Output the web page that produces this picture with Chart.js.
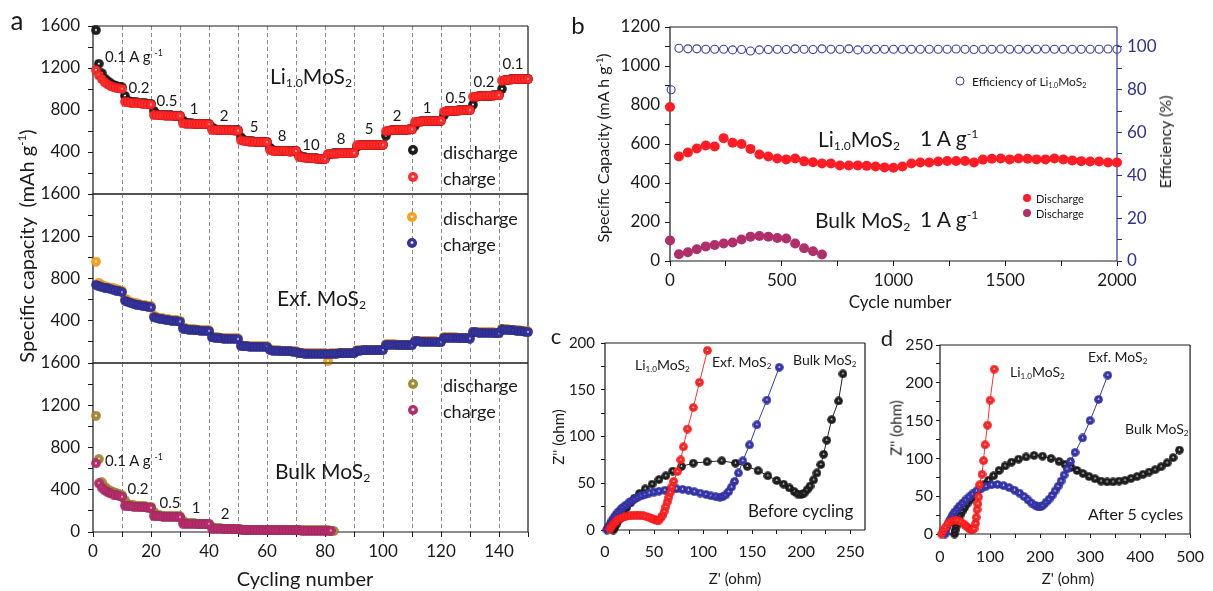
<!DOCTYPE html>
<html><head><meta charset="utf-8">
<script src="https://cdn.jsdelivr.net/npm/chart.js@4.4.0/dist/chart.umd.min.js"></script>
<style>
html,body{margin:0;padding:0;background:#fff;}
#root{position:relative;width:1213px;height:591px;overflow:hidden;font-family:Lato,'Open Sans',sans-serif;color:#1a1a1a;}
#root canvas{position:absolute;left:0;top:0;}
.t{position:absolute;white-space:nowrap;line-height:1;}
.c{transform:translate(-50%,-50%);}
.l{transform:translate(0,-50%);}
.rot{transform:translate(-50%,-50%) rotate(-90deg);}
sub{font-size:58%;vertical-align:-0.3em;line-height:0;}
sup{font-size:58%;vertical-align:0.65em;line-height:0;}
.ball{position:absolute;border-radius:50%;transform:translate(-50%,-50%);}
</style></head>
<body><div id="root">
<canvas id="ca1" width="1213" height="591"></canvas>
<canvas id="ca2" width="1213" height="591"></canvas>
<canvas id="ca3" width="1213" height="591"></canvas>
<canvas id="cb" width="1213" height="591"></canvas>
<canvas id="cc" width="1213" height="591"></canvas>
<canvas id="cd" width="1213" height="591"></canvas>

<!-- panel a -->
<div class="t c" style="left:17px;top:20px;font-size:26px">a</div>
<div class="t rot" style="left:26px;top:246px;font-size:20px">Specific capacity&nbsp; (mAh g<sup>-1</sup>)</div>
<div class="t c" style="left:305px;top:578px;font-size:20px">Cycling number</div>
<div class="t l" style="left:270px;top:75px;font-size:21px">Li<sub>1.0</sub>MoS<sub>2</sub></div>
<div class="t l" style="left:105px;top:56px;font-size:15px">0.1 A g <sup>-1</sup></div>
<div class="t c" style="left:139px;top:87px;font-size:15px">0.2</div>
<div class="t c" style="left:167px;top:100px;font-size:15px">0.5</div>
<div class="t c" style="left:194px;top:108px;font-size:15px">1</div>
<div class="t c" style="left:224px;top:115px;font-size:15px">2</div>
<div class="t c" style="left:254px;top:126px;font-size:15px">5</div>
<div class="t c" style="left:282px;top:135px;font-size:15px">8</div>
<div class="t c" style="left:311px;top:144px;font-size:15px">10</div>
<div class="t c" style="left:341px;top:138px;font-size:15px">8</div>
<div class="t c" style="left:369px;top:128px;font-size:15px">5</div>
<div class="t c" style="left:397px;top:115px;font-size:15px">2</div>
<div class="t c" style="left:427px;top:107px;font-size:15px">1</div>
<div class="t c" style="left:456px;top:97px;font-size:15px">0.5</div>
<div class="t c" style="left:484px;top:81px;font-size:15px">0.2</div>
<div class="t c" style="left:513px;top:63px;font-size:15px">0.1</div>
<div class="ball" id="lg1" style="left:413px;top:150px;width:10px;height:10px"></div>
<div class="t l" style="left:443px;top:152px;font-size:18px">discharge</div>
<div class="ball" id="lg2" style="left:413px;top:177px;width:10px;height:10px"></div>
<div class="t l" style="left:443px;top:178px;font-size:18px">charge</div>

<div class="t l" style="left:277px;top:297px;font-size:21px">Exf. MoS<sub>2</sub></div>
<div class="ball" id="lg3" style="left:412px;top:217px;width:10px;height:10px"></div>
<div class="t l" style="left:443px;top:218px;font-size:18px">discharge</div>
<div class="ball" id="lg4" style="left:412px;top:243px;width:10px;height:10px"></div>
<div class="t l" style="left:443px;top:244px;font-size:18px">charge</div>

<div class="t l" style="left:275px;top:470px;font-size:21px">Bulk MoS<sub>2</sub></div>
<div class="ball" id="lg5" style="left:413px;top:384px;width:10px;height:10px"></div>
<div class="t l" style="left:443px;top:385px;font-size:18px">discharge</div>
<div class="ball" id="lg6" style="left:413px;top:410px;width:10px;height:10px"></div>
<div class="t l" style="left:443px;top:411px;font-size:18px">charge</div>
<div class="t l" style="left:105px;top:460px;font-size:15px">0.1 A g <sup>-1</sup></div>
<div class="t c" style="left:138px;top:488px;font-size:15px">0.2</div>
<div class="t c" style="left:170px;top:502px;font-size:15px">0.5</div>
<div class="t c" style="left:196px;top:507px;font-size:15px">1</div>
<div class="t c" style="left:225px;top:513px;font-size:15px">2</div>

<!-- panel b -->
<div class="t c" style="left:578px;top:25px;font-size:24px">b</div>
<div class="t rot" style="left:603px;top:148px;font-size:16px">Specific Capacity (mA h g<sup>-1</sup>)</div>
<div class="t rot" style="left:1165px;top:142px;font-size:16px">Efficiency (%)</div>
<div class="t c" style="left:900px;top:301px;font-size:17px">Cycle number</div>
<div class="t l" style="left:818px;top:138px;font-size:21px">Li<sub>1.0</sub>MoS<sub>2</sub></div>
<div class="t l" style="left:920px;top:137px;font-size:21px">1 A g<sup>-1</sup></div>
<div class="t l" style="left:815px;top:219px;font-size:21px">Bulk MoS<sub>2</sub></div>
<div class="t l" style="left:920px;top:218px;font-size:21px">1 A g<sup>-1</sup></div>
<div class="ball" style="left:960px;top:81px;width:7px;height:7px;border:1.2px solid #3b3fa8"></div>
<div class="t l" style="left:972px;top:82px;font-size:12px">Efficiency of Li<sub>1.0</sub>MoS<sub>2</sub></div>
<div class="ball" style="left:1027px;top:198px;width:8px;height:8px;background:#ff1c24"></div>
<div class="t l" style="left:1036px;top:198px;font-size:11px">Discharge</div>
<div class="ball" style="left:1027px;top:213px;width:8px;height:8px;background:#b02f6a"></div>
<div class="t l" style="left:1036px;top:213px;font-size:11px">Discharge</div>

<!-- panel c -->
<div class="t c" style="left:556px;top:336px;font-size:22px">c</div>
<div class="t rot" style="left:558px;top:437px;font-size:15px">Z'' (ohm)</div>
<div class="t c" style="left:735px;top:578px;font-size:15px">Z' (ohm)</div>
<div class="t l" style="left:635px;top:365px;font-size:14px">Li<sub>1.0</sub>MoS<sub>2</sub></div>
<div class="t l" style="left:712px;top:362px;font-size:14px">Exf. MoS<sub>2</sub></div>
<div class="t l" style="left:793px;top:360px;font-size:14px">Bulk MoS<sub>2</sub></div>
<div class="t l" style="left:748px;top:510px;font-size:17px">Before cycling</div>

<!-- panel d -->
<div class="t c" style="left:887px;top:338px;font-size:22px">d</div>
<div class="t rot" style="left:896px;top:428px;font-size:15px">Z'' (ohm)</div>
<div class="t c" style="left:1068px;top:578px;font-size:15px">Z' (ohm)</div>
<div class="t l" style="left:1010px;top:372px;font-size:14px">Li<sub>1.0</sub>MoS<sub>2</sub></div>
<div class="t l" style="left:1088px;top:357px;font-size:14px">Exf. MoS<sub>2</sub></div>
<div class="t l" style="left:1125px;top:429px;font-size:14px">Bulk MoS<sub>2</sub></div>
<div class="t l" style="left:1088px;top:514px;font-size:16px">After 5 cycles</div>
</div>

<script>
// ---------------- DATA ----------------
// Panel a: capacity (mAh/g) per cycle (cycle 1..N)
const liCharge = [1180,1130,1095,1065,1045,1030,1020,1010,1005,1000,
 880,875,870,868,865,862,860,858,855,852,
 752,750,749,748,747,746,745,744,743,742,
 672,670,669,668,667,666,666,665,664,664,
 612,610,609,608,607,606,605,605,604,603,
 510,505,502,500,498,497,496,495,494,493,
 420,412,408,405,410,412,406,403,408,410,
 355,348,345,342,340,340,338,336,334,333,
 382,384,385,385,386,386,387,388,388,389,
 462,464,465,466,466,467,467,468,468,469,
 598,603,606,608,610,611,612,613,614,615,
 685,688,690,692,694,695,696,697,698,699,
 785,788,790,792,794,795,796,797,798,799,
 925,928,930,932,934,936,937,938,939,940,
 1080,1085,1088,1090,1092,1092,1093,1094,1094,1095];
const liDischarge = [1560,1240,1150,1100,1075,1055,1040,1030,1022,1015,
 935,890,880,875,872,868,865,862,860,858,
 790,760,755,752,750,749,748,747,746,745,
 700,678,674,672,670,669,668,667,666,666,
 635,618,613,611,610,609,608,607,606,605,
 540,515,508,504,502,500,499,498,497,496,
 440,420,413,410,412,414,410,407,410,412,
 370,355,350,346,343,342,340,338,336,335,
 372,384,386,387,387,388,388,389,389,390,
 450,465,467,467,468,468,469,469,470,470,
 555,600,607,609,611,612,613,614,615,616,
 650,688,692,694,695,696,697,698,699,700,
 750,788,792,794,795,796,797,798,799,800,
 850,928,932,934,935,937,938,939,940,941,
 1000,1085,1090,1092,1093,1094,1095,1095,1096,1096];
const exfCharge = [740,725,718,712,706,700,693,686,678,670,
 590,578,568,560,552,545,540,535,530,526,
 432,424,418,412,408,404,400,397,394,392,
 326,320,316,313,311,309,307,305,304,302,
 242,238,235,233,231,230,229,228,227,226,
 160,158,157,156,155,155,154,154,153,153,
 122,118,116,114,112,111,110,109,108,108,
 92,90,89,88,87,87,86,86,86,85,
 88,88,89,89,90,90,90,91,91,92,
 118,118,119,119,120,120,121,121,122,122,
 172,172,171,171,170,170,170,169,169,168,
 205,204,203,202,201,200,200,199,198,198,
 240,239,238,237,236,235,234,233,232,231,
 292,290,288,287,286,285,284,283,282,281,
 318,316,313,311,308,305,302,299,296,293];
const exfDischarge = [960,760,735,727,720,714,707,700,692,684,
 610,592,580,572,564,557,551,546,541,537,
 450,436,429,423,418,414,410,407,404,401,
 340,330,325,322,319,317,315,313,311,310,
 254,246,242,240,238,236,235,234,233,232,
 170,165,163,162,161,160,160,159,159,158,
 130,124,121,119,117,116,115,114,113,113,
 98,95,94,93,92,91,91,90,90,90,
 20,93,94,94,95,95,95,96,96,97,
 122,123,124,124,125,125,126,126,127,127,
 178,177,176,176,175,175,175,174,174,173,
 210,209,208,207,206,205,205,204,203,203,
 246,245,244,243,242,241,240,239,238,237,
 298,296,294,293,292,291,290,289,288,287,
 326,322,319,317,314,311,308,305,302,299];
const bulkCharge = [650,460,420,395,378,365,355,347,340,333,
 248,244,242,240,238,236,234,232,230,228,
 150,148,147,146,145,144,143,142,141,140,
 80,78,77,76,75,75,74,74,73,73,
 32,31,30,30,29,29,28,28,27,27,
 20,20,19,19,19,18,18,18,18,17,
 17,17,16,16,16,16,15,15,15,15,
 15,14,14,14,14,14,13,13,13,13,
 13,12];
const bulkDischarge = [1100,690,470,430,405,390,377,366,357,349,
 300,262,255,252,249,247,245,243,241,239,
 190,162,157,155,153,152,151,150,149,148,
 110,88,84,82,81,80,79,79,78,78,
 50,38,35,34,33,33,32,32,31,31,
 25,23,22,22,21,21,21,20,20,20,
 19,19,19,18,18,18,18,17,17,17,
 17,16,16,16,16,16,15,15,15,15,
 15,14,10];
const aYTicks = [0,400,800,1200,1600];
const aXTicks = [0,20,40,60,80,100,120,140];

// Panel b: long cycling at 1 A/g
const bCycles = [0,40,80,120,160,200,240,280,320,360,400,440,480,520,560,600,640,680,720,760,800,840,880,920,960,1000,
 1040,1080,1120,1160,1200,1240,1280,1320,1360,1400,1440,1480,1520,1560,1600,1640,1680,1720,1760,1800,1840,1880,1920,1960,2000];
const bLiDischarge = [790,536,556,577,592,587,630,606,600,575,546,536,526,521,526,511,506,500,500,490,490,490,488,485,480,478,
 485,500,505,505,510,513,513,513,505,520,524,526,521,526,524,521,521,526,521,516,512,510,510,505,505];
const bBulkCycles = [0,40,80,120,160,200,240,280,320,360,400,440,480,520,560,600,640,680];
const bBulkDischarge = [105,35,45,60,75,82,90,95,110,125,128,125,118,115,90,65,50,33];
const bEffCycles = [5,40,80,120,160,200,240,280,320,360,400,440,480,520,560,600,640,680,720,760,800,840,880,920,960,1000,
 1040,1080,1120,1160,1200,1240,1280,1320,1360,1400,1440,1480,1520,1560,1600,1640,1680,1720,1760,1800,1840,1880,1920,1960,2000];
const bEfficiency = [80,99.4,99.1,99.1,98.9,98.9,98.9,98.6,98.8,98.1,98.6,98.8,98.9,98.8,99.1,98.9,98.8,99.1,98.9,98.9,99.1,98.6,98.9,98.9,98.9,98.9,
 98.9,98.9,98.9,98.9,98.9,98.9,99.0,98.9,98.8,98.9,98.9,99.0,98.9,98.9,98.9,98.9,99.0,98.9,98.9,98.9,98.9,98.9,98.9,99.0,98.9];

// Panel c: Nyquist before cycling (Z', Z'')
const cLiX = [5,6,7.5,9,11,13,15.5,18,21,24,27,30,33,36,39,42,45,48,50.5,53,55,57,59,60.5,62,63.5,65,66.5,68,70,73.8,77.2,79.9,84,90,96.3,104.4];
const cLiY = [1,3,5,7,9,11,12.5,13.5,14.5,15,15.5,15.8,16,15.8,15.3,14.5,13.5,12,11,10,10.5,13,16,20,25,30,35,40,46,52,62.5,75,89,108,131,158,192];
const cExfX = [2,3,4,5.5,7,9,11,13,15.5,18,21,24,27,30,33.5,37,41,45,50,55,61,67,73,79,85,91,97,103,108,113,117,120,123,126,129,132,136,140.5,147.3,154.8,165,177.6];
const cExfY = [0,2,4,7,10,13,16,19,21.5,24,26.5,29,31,33,35,36.5,38,39.5,40.5,41.5,42.5,43.5,44,43.5,42.5,41,39.5,38,36.5,35.5,35,35.5,37.5,41,46,52,61,74,91,112.5,139,174];
const cBulkX = [8.5,10,11.5,13.5,16,19,22,26,30,35,41,48,55,62,69,78,90,104,119,133,145,156,166,175,182,188,193,196.5,200,203,206,209,212.6,216,220,222.8,226,231,238,242.5];
const cBulkY = [0,3,6,10,14,19,24,29,34,39,44,49,54,58,63,68,71.5,73,74,71.5,68,63.5,58,53,49,45,41,38.5,38,39.5,43,47,53.6,61,70,81,96,118,138,167];

// Panel d: Nyquist after 5 cycles
const dLiX = [3,6.5,11,16,22,29,35,42,48,53,58,61,65,68,71,72.5,74,75.5,77,79,84,87,90,95,100,108.4];
const dLiY = [0,5,9,14,17,18.5,18.5,16,13,10,7.5,6,6,7,14,22,32,40,49,65,79,97,118,144,177,218];
const dExfX = [10,11,13,15,18,21,25,29,34,39,45,51,58,65,73,82,92,103,115,127,138,149,159,168,176,183,190,196,201,206,212,218,224,230,236,242,248,254,261,270,285,300,317,335.5];
const dExfY = [0,4,8,12,16,20,25,29,33,37,41,45,49,53,57,60,63,65,65.5,64,61.5,58,54,49.5,45,41,38,36,36,38,42,46,51,57,63,70,78,86,96,108,127,150,178,210];
const dBulkX = [29,30,32,34,37,40,44,49,54,60,66,73,80,88,97,107,118,130,143,157,172,188,205,222,238,250,262,274,286,298,310,322,334,346,358,370,382,394,406,418,430,442,454,466,478.7];
const dBulkY = [0,5,10,15,20,25,30,35,40,45,50,55,60,65,71,77,84,90,95,99,102,104,103,100,96,92,88,84,80,76,73,70,69,69,70,71,73.5,76,79,82,85,89,94,101,111];

// ---------------- RENDER ----------------
const W = 1213, H = 591;
Chart.defaults.font.family = "Lato, 'Open Sans', sans-serif";
Chart.defaults.color = '#1a1a1a';
Chart.defaults.animation = false;

function sphere(color, dark, d) {
  const c = document.createElement('canvas');
  c.width = c.height = d;
  const x = c.getContext('2d');
  const r = d / 2;
  const g = x.createRadialGradient(r * 1.0, r * 0.92, 0, r, r, r);
  g.addColorStop(0, 'rgba(255,255,255,0.9)');
  g.addColorStop(0.1, 'rgba(255,255,255,0.6)');
  g.addColorStop(0.27, color);
  g.addColorStop(0.82, color);
  g.addColorStop(1, dark);
  x.fillStyle = g;
  x.beginPath(); x.arc(r, r, r - 0.2, 0, Math.PI * 2); x.fill();
  return c;
}
function cssSphere(el, color, dark) {
  document.getElementById(el).style.background =
    `radial-gradient(circle at 50% 46%, rgba(255,255,255,.9) 0%, rgba(255,255,255,.6) 10%, ${color} 27%, ${color} 82%, ${dark} 100%)`;
}
const COL = {
  liD: ['#1c1c1c', '#000000'], liC: ['#ff2a2a', '#cc0000'],
  exD: ['#f7a21b', '#cf7800'], exC: ['#33339a', '#1b1b6e'],
  buD: ['#a38a35', '#7a6520'], buC: ['#b52c6c', '#851a4b'],
  red: ['#ff2222', '#cc0000'], blue: ['#3535aa', '#1c1c78'], black: ['#1e1e1e', '#000000']
};
cssSphere('lg1', ...COL.liD); cssSphere('lg2', ...COL.liC);
cssSphere('lg3', ...COL.exD); cssSphere('lg4', ...COL.exC);
cssSphere('lg5', ...COL.buD); cssSphere('lg6', ...COL.buC);

function frame(color, rightColor) {
  return { id: 'frame', beforeDatasetsDraw(ch) {
    const a = ch.chartArea, c = ch.ctx;
    c.save(); c.setLineDash([]); c.lineWidth = 1.2; c.strokeStyle = color;
    c.beginPath(); c.moveTo(a.right, a.top); c.lineTo(a.left, a.top); c.lineTo(a.left, a.bottom); c.lineTo(a.right, a.bottom); c.stroke();
    c.strokeStyle = rightColor || color;
    c.beginPath(); c.moveTo(a.right, a.top); c.lineTo(a.right, a.bottom); c.stroke();
    c.restore();
  }};
}
function axis(o) {
  return {
    type: 'linear', position: o.pos, min: o.min, max: o.max,
    afterFit(s) { if (s.isHorizontal()) s.height = o.size; else s.width = o.size; },
    grid: { display: true, drawOnChartArea: !!o.grid, drawTicks: (o.tl || 0) > 0, tickLength: o.tl || 0, tickWidth: 1,
            tickColor: o.color || '#1a1a1a', color: o.grid || 'rgba(0,0,0,0)', lineWidth: 1 },
    border: { display: false, dash: o.dash || [] },
    ticks: { display: o.labels !== false, stepSize: o.step, autoSkip: false, maxRotation: 0, minRotation: 0, includeBounds: false,
             padding: o.pad || 3, color: o.color || '#1a1a1a', font: { size: o.fs || 16 }, callback: o.cb }
  };
}
function labelIf(list) { return v => list.includes(v) ? String(v) : ''; }
function xy(xs, ys) { return ys.map((v, i) => ({ x: xs[i], y: v })); }
function cyc(ys) { return ys.map((v, i) => ({ x: i + 1, y: v })); }
function mk(id, area, scales, datasets, plugins) {
  const padding = { left: area.l - (area.yL || 0), right: W - area.r - (area.yR || 0), top: area.t, bottom: H - area.b - (area.xB || 0) };
  return new Chart(document.getElementById(id), {
    type: 'scatter', data: { datasets },
    options: { responsive: false, animation: false, devicePixelRatio: 1, events: [],
      layout: { padding }, plugins: { legend: { display: false }, tooltip: { enabled: false } }, scales },
    plugins
  });
}
function ptsSet(data, img, extra) {
  return Object.assign({ data, pointStyle: img, pointRadius: 5, showLine: false, clip: false, borderWidth: 0 }, extra || {});
}

// ---- panel a ----
const aL = 93, aR = 528;
const gridCol = ctx => (ctx.tick && (ctx.tick.value === 0 || ctx.tick.value === 150)) ? 'rgba(0,0,0,0)' : '#8c8c8c';
function aPanel(id, t, b, datasets, bottom) {
  const scales = {
    x: axis({ pos: 'bottom', min: 0, max: 150, step: 10, size: bottom ? 30 : 0, tl: bottom ? 5 : 0, pad: 4, labels: bottom,
              grid: gridCol, dash: [4, 3], fs: 17, cb: labelIf(aXTicks) }),
    y: axis({ pos: 'left', min: 0, max: 1600, step: 200, size: 60, tl: 5, pad: 8, fs: 17,
              cb: labelIf(bottom ? aYTicks : aYTicks.filter(v => v > 0)) })
  };
  return mk(id, { l: aL, r: aR, t, b, yL: 60, xB: bottom ? 30 : 0 }, scales, datasets, [frame('#1a1a1a')]);
}
const S = (k, d) => sphere(COL[k][0], COL[k][1], d);
aPanel('ca1', 26, 194, [ptsSet(cyc(liCharge), S('liC', 10)), ptsSet(cyc(liDischarge), S('liD', 10))], false);
aPanel('ca2', 194, 363, [ptsSet(cyc(exfCharge), S('exC', 10)), ptsSet(cyc(exfDischarge), S('exD', 10))], false);
aPanel('ca3', 363, 532, [ptsSet(cyc(bulkCharge), S('buC', 10)), ptsSet(cyc(bulkDischarge), S('buD', 10))], true);

// ---- panel b ----
const BLUE = '#2e3192';
mk('cb', { l: 670, r: 1117, t: 27, b: 261, yL: 60, yR: 50, xB: 30 }, {
  x: axis({ pos: 'bottom', min: 0, max: 2000, step: 250, size: 30, tl: 5, pad: 4, fs: 17, cb: labelIf([0, 500, 1000, 1500, 2000]) }),
  y: axis({ pos: 'left', min: 0, max: 1200, step: 100, size: 60, tl: 5, pad: 5, fs: 17, cb: labelIf([0, 200, 400, 600, 800, 1000, 1200]) }),
  y2: axis({ pos: 'right', min: 0, max: 109.3, step: 10, size: 50, tl: 5, pad: 5, fs: 17, color: BLUE, cb: labelIf([0, 20, 40, 60, 80, 100]) })
}, [
  { data: xy(bEffCycles, bEfficiency), yAxisID: 'y2', pointStyle: 'circle', pointRadius: 4, showLine: false, clip: false,
    backgroundColor: 'rgba(0,0,0,0)', borderColor: '#3b3fa8', borderWidth: 1.1 },
  { data: xy(bCycles, bLiDischarge), pointStyle: 'circle', pointRadius: 5, showLine: false, clip: false, backgroundColor: '#ff1c24', borderWidth: 0 },
  { data: xy(bBulkCycles, bBulkDischarge), pointStyle: 'circle', pointRadius: 5, showLine: false, clip: false, backgroundColor: '#b02f6a', borderWidth: 0 }
], [frame('#1a1a1a', BLUE)]);

// ---- panels c, d ----
function nyq(data, k, line) {
  return { data, pointStyle: S(k, 9), pointRadius: 4.5, showLine: true, borderColor: line, borderWidth: 1, tension: 0, clip: false };
}
mk('cc', { l: 605, r: 865, t: 343, b: 530, yL: 50, xB: 30 }, {
  x: axis({ pos: 'bottom', min: 0, max: 265, step: 25, size: 30, tl: 4, pad: 8, fs: 16, cb: labelIf([0, 50, 100, 150, 200, 250]) }),
  y: axis({ pos: 'left', min: 0, max: 200, step: 25, size: 50, tl: 4, pad: 6, fs: 15, cb: labelIf([0, 50, 100, 150, 200]) })
}, [nyq(xy(cLiX, cLiY), 'red', '#ff3030'), nyq(xy(cExfX, cExfY), 'blue', '#3a3aa8'), nyq(xy(cBulkX, cBulkY), 'black', '#222')],
[frame('#1a1a1a')]);

mk('cd', { l: 940, r: 1198, t: 345, b: 534, yL: 50, xB: 30 }, {
  x: axis({ pos: 'bottom', min: 0, max: 500, step: 50, size: 30, tl: 4, pad: 9, fs: 16, cb: labelIf([0, 100, 200, 300, 400, 500]) }),
  y: axis({ pos: 'left', min: 0, max: 250, step: 25, size: 50, tl: 4, pad: 3, fs: 16, cb: labelIf([0, 50, 100, 150, 200, 250]) })
}, [nyq(xy(dLiX, dLiY), 'red', '#ff3030'), nyq(xy(dExfX, dExfY), 'blue', '#3a3aa8'), nyq(xy(dBulkX, dBulkY), 'black', '#222')],
[frame('#1a1a1a')]);
</script>
</body></html>
